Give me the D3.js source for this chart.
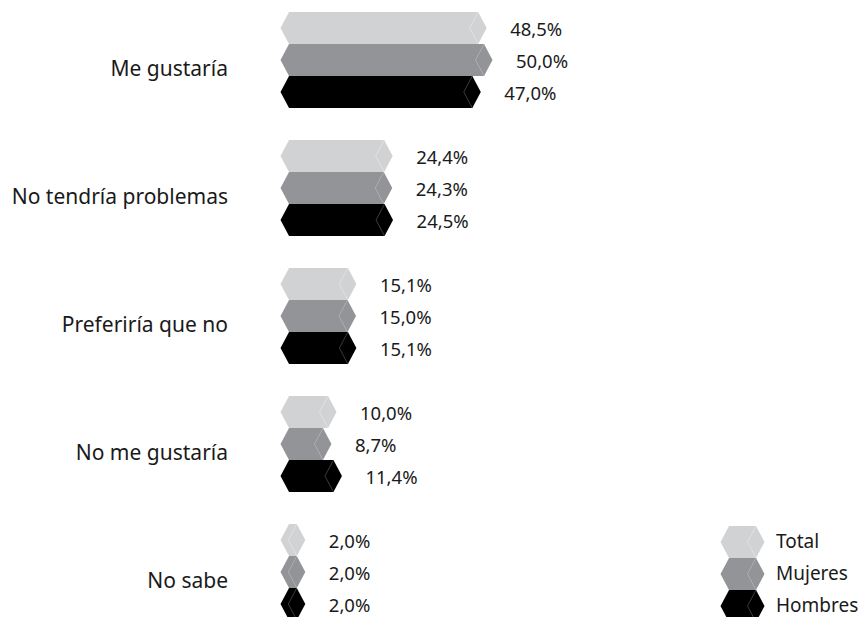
<!DOCTYPE html>
<html>
<head>
<meta charset="utf-8">
<script src="https://cdn.jsdelivr.net/npm/d3@7"></script>
<style>
  html, body { margin: 0; padding: 0; background: #fff; }
  svg { display: block; font-family: "Noto Sans", sans-serif; }
</style>
</head>
<body>
<svg id="chart" width="858" height="617"></svg>
<script>
// Survey answers, percentages by group
const categories = ["Me gustaría", "No tendría problemas", "Preferiría que no", "No me gustaría", "No sabe"];
const seriesNames = ["Total", "Mujeres", "Hombres"];
const totalValues   = [48.5, 24.4, 15.1, 10.0, 2.0];
const mujeresValues = [50.0, 24.3, 15.0, 8.7, 2.0];
const hombresValues = [47.0, 24.5, 15.1, 11.4, 2.0];

const seriesValues = [totalValues, mujeresValues, hombresValues];
const fills  = ["#d1d2d4", "#929497", "#000000"];
const ridges = ["#e4e5e6", "#b3b4b6", "#4a4a4a"];

const svg = d3.select("#chart");

const x = d3.scaleLinear().domain([0, 50]).range([289, 484]);
const yGroup = d3.scaleBand().domain(categories).range([12, 652]).paddingInner(0);
const ySeries = d3.scaleBand().domain(seriesNames).range([0, yGroup.bandwidth() * 0.75]);

const tip = 8.5; // horizontal depth of the pointed prism ends

// Hexagonal prism outline from x0 to x1 between top and bottom
function prism(x0, x1, top, bottom) {
  const cy = (top + bottom) / 2;
  return [[x0 - tip, cy], [x0, top], [x1, top], [x1 + tip, cy], [x1, bottom], [x0, bottom]];
}
// Inner edge of the right-hand cap
function ridge(x1, top, bottom) {
  const cy = (top + bottom) / 2;
  return [[x1, top], [x1 - tip, cy], [x1, bottom]];
}
const line = d3.line();

const rows = [];
categories.forEach((cat, i) => {
  seriesNames.forEach((s, j) => {
    rows.push({ cat, s, j, v: seriesValues[j][i] });
  });
});

const bars = svg.append("g").selectAll("g").data(rows).join("g");
bars.append("path")
  .attr("d", d => {
    const top = yGroup(d.cat) + ySeries(d.s);
    return line(prism(x(0), x(d.v), top, top + ySeries.bandwidth())) + "Z";
  })
  .attr("fill", d => fills[d.j]);
bars.append("path")
  .attr("d", d => {
    const top = yGroup(d.cat) + ySeries(d.s);
    return line(ridge(x(d.v), top, top + ySeries.bandwidth()));
  })
  .attr("fill", "none")
  .attr("stroke", d => ridges[d.j])
  .attr("stroke-width", 0.8);
bars.append("text")
  .attr("x", d => x(d.v) + 32)
  .attr("y", d => yGroup(d.cat) + ySeries(d.s) + ySeries.bandwidth() / 2 + 7.5)
  .attr("font-size", 18.5)
  .attr("fill", "#1a1a1a")
  .text(d => d.v.toFixed(1).replace(".", ",") + "%");

// Category labels
svg.append("g").selectAll("text").data(categories).join("text")
  .attr("x", 228)
  .attr("y", d => yGroup(d) + ySeries("Mujeres") + ySeries.bandwidth() / 2 + 16)
  .attr("text-anchor", "end")
  .attr("font-size", 21)
  .attr("fill", "#1a1a1a")
  .text(d => d);

// Legend, aligned with the rows of the last group
const legendTop = yGroup(categories[categories.length - 1]);
const legend = svg.append("g").selectAll("g").data(seriesNames).join("g");
legend.append("path")
  .attr("d", (s, j) => {
    const top = legendTop + ySeries(s) + 2;
    return line(prism(729, 756, top, top + ySeries.bandwidth())) + "Z";
  })
  .attr("fill", (s, j) => fills[j]);
legend.append("path")
  .attr("d", s => {
    const top = legendTop + ySeries(s) + 2;
    return line(ridge(756, top, top + ySeries.bandwidth()));
  })
  .attr("fill", "none")
  .attr("stroke", (s, j) => ridges[j])
  .attr("stroke-width", 0.8);
legend.append("text")
  .attr("x", 776)
  .attr("y", s => legendTop + ySeries(s) + 2 + ySeries.bandwidth() / 2 + 5.5)
  .attr("font-size", 19)
  .attr("fill", "#1a1a1a")
  .text(s => s);
</script>
</body>
</html>
